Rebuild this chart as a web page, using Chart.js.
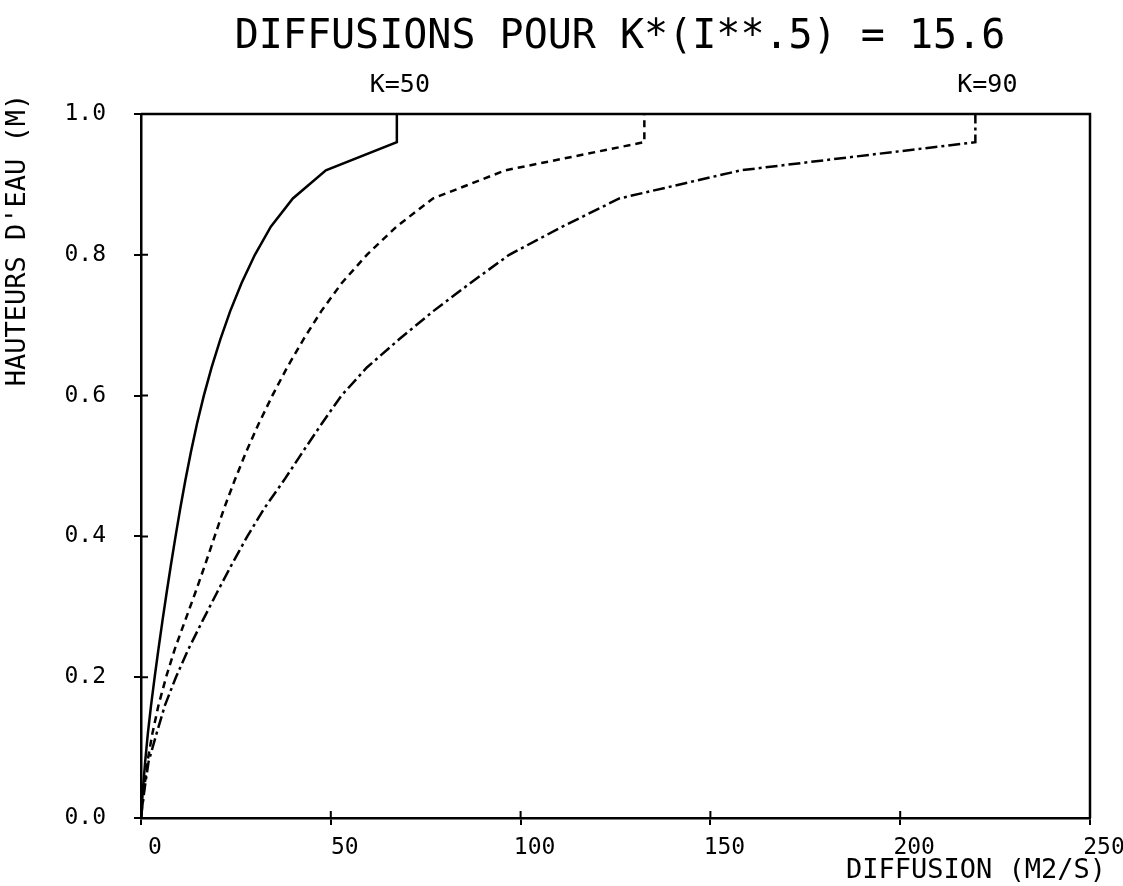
<!DOCTYPE html>
<html>
<head>
<meta charset="utf-8">
<script src="https://cdn.jsdelivr.net/npm/chart.js@4.4.1/dist/chart.umd.min.js"></script>
<style>
html,body{margin:0;padding:0;background:#fff;}
canvas{display:block;}
</style>
</head>
<body>
<canvas id="c" width="1123" height="886"></canvas>
<script>
// Heights (m) at which diffusion was computed
const heights = [0, 0.04, 0.08, 0.12, 0.16, 0.20, 0.24, 0.28, 0.32, 0.36, 0.40, 0.44, 0.48, 0.52, 0.56, 0.60, 0.64, 0.68, 0.72, 0.76, 0.80, 0.84, 0.88, 0.92, 0.96, 1.00];
// Diffusion values (m2/s) per curve
const diffSolid   = [0, 0.5, 1.1, 1.8, 2.65, 3.6, 4.6, 5.65, 6.75, 7.9, 9.1, 10.35, 11.7, 13.15, 14.75, 16.55, 18.6, 20.9, 23.5, 26.5, 30.0, 34.2, 40.0, 48.7, 67.4, 67.4];
const diffDashed  = [0, 0.8, 1.7, 3.0, 4.6, 6.6, 8.9, 11.6, 14.3, 16.9, 19.4, 21.9, 24.7, 27.7, 31.0, 34.6, 38.5, 42.8, 47.5, 52.9, 59.5, 67.3, 76.9, 96.0, 132.6, 132.6];
const diffDashDot = [0, 0.9, 2.0, 4.1, 6.3, 9.2, 12.5, 16.2, 20.0, 23.9, 28.0, 32.5, 37.7, 42.6, 47.6, 52.8, 59.5, 68.0, 77.0, 86.8, 97.0, 111.0, 126.0, 158.0, 219.8, 219.8];
const xTicks = [0, 50, 100, 150, 200, 250];
const yTicks = [0, 0.2, 0.4, 0.6, 0.8, 1.0];
const titleText = "DIFFUSIONS POUR K*(I**.5) = 15.6";
const curveLabels = ["K=50", "K=90"];
const xTitle = "DIFFUSION (M2/S)";
const yTitle = "HAUTEURS D'EAU (M)";

const MONO = '"DejaVu Sans Mono", "Liberation Mono", monospace';

function pts(vals){ return vals.map((v,i)=>({x:v, y:heights[i]})); }

const decor = {
  id: 'decor',
  afterDraw(chart){
    const ctx = chart.ctx, a = chart.chartArea;
    const xs = chart.scales.x, ys = chart.scales.y;
    ctx.save();
    ctx.strokeStyle = '#000';
    ctx.lineWidth = 2.5;
    // top and right frame
    ctx.beginPath();
    ctx.moveTo(a.left, a.top); ctx.lineTo(a.right, a.top); ctx.lineTo(a.right, a.bottom);
    ctx.stroke();
    // inward tick halves
    ctx.lineWidth = 2;
    ctx.beginPath();
    xTicks.forEach(v=>{ const p = xs.getPixelForValue(v); ctx.moveTo(p, a.bottom); ctx.lineTo(p, a.bottom-7); });
    yTicks.forEach(v=>{ const p = ys.getPixelForValue(v); ctx.moveTo(a.left, p); ctx.lineTo(a.left+7, p); });
    ctx.stroke();
    // texts
    ctx.fillStyle = '#000';
    ctx.textBaseline = 'middle';
    ctx.textAlign = 'center';
    ctx.font = '40px ' + MONO;
    ctx.fillText(titleText, 620, 38);
    ctx.font = '25px ' + MONO;
    ctx.fillText(curveLabels[0], xs.getPixelForValue(diffSolid[diffSolid.length-1]) + 3, 85);
    ctx.fillText(curveLabels[1], xs.getPixelForValue(diffDashDot[diffDashDot.length-1]) + 12, 85);
    ctx.font = '27px ' + MONO;
    ctx.textAlign = 'right';
    ctx.fillText(xTitle, 1106, 871);
    ctx.translate(18, 240);
    ctx.rotate(-Math.PI/2);
    ctx.textAlign = 'center';
    ctx.fillText(yTitle, 0, 0);
    ctx.restore();
  }
};

new Chart(document.getElementById('c'), {
  type: 'scatter',
  data: {
    datasets: [
      {data: pts(diffSolid), showLine: true, borderColor: '#000', borderWidth: 2.5, pointRadius: 0, tension: 0},
      {data: pts(diffDashed), showLine: true, borderColor: '#000', borderWidth: 2.5, borderDash: [7,5], pointRadius: 0, tension: 0},
      {data: pts(diffDashDot), showLine: true, borderColor: '#000', borderWidth: 2.5, borderDash: [12,4,3,4], pointRadius: 0, tension: 0}
    ]
  },
  options: {
    responsive: false,
    devicePixelRatio: 1,
    animation: false,
    layout: {padding: {top: 114, right: 33, bottom: 0, left: 0}},
    plugins: {legend: {display: false}, tooltip: {enabled: false}, title: {display: false}},
    scales: {
      x: {
        type: 'linear', min: 0, max: 250,
        afterFit(s){ s.height = 68; },
        afterBuildTicks(s){ s.ticks = xTicks.map(v=>({value:v})); },
        grid: {display: true, drawOnChartArea: false, drawTicks: true, tickLength: 7, color: '#000', lineWidth: 2},
        border: {display: true, color: '#000', width: 2.5},
        ticks: {color: '#000', font: {family: MONO, size: 23}, padding: 9, labelOffset: 14, maxRotation: 0,
                callback: v => String(v)}
      },
      y: {
        type: 'linear', min: 0, max: 1,
        afterFit(s){ s.width = 141; },
        afterBuildTicks(s){ s.ticks = yTicks.map(v=>({value:v})); },
        grid: {display: true, drawOnChartArea: false, drawTicks: true, tickLength: 7, color: '#000', lineWidth: 2},
        border: {display: true, color: '#000', width: 2.5},
        ticks: {color: '#000', font: {family: MONO, size: 23}, padding: 28,
                callback: v => Number(v).toFixed(1)}
      }
    }
  },
  plugins: [decor]
});
</script>
</body>
</html>
